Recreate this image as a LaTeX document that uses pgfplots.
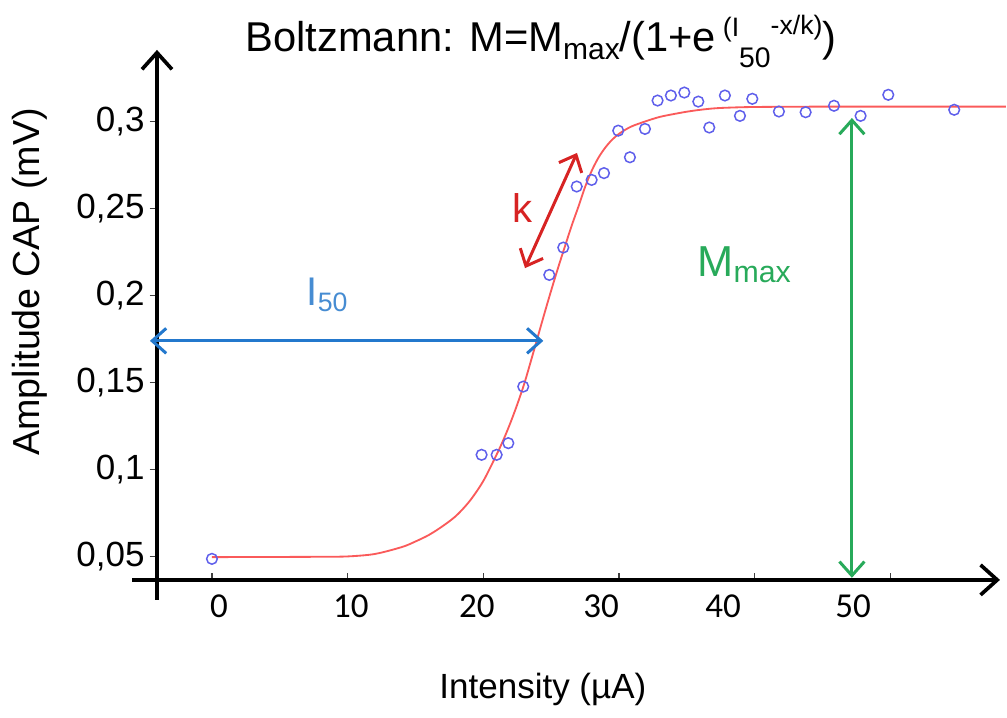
\documentclass[border=0pt]{standalone}
\usepackage{pgfplots}
\pgfplotsset{compat=1.18}
\usetikzlibrary{arrows.meta}
\usepackage{fontspec}
\setmainfont{Liberation Sans}
\newfontfamily\tickfont{Carlito}

\definecolor{fitred}{RGB}{250,90,90}
\definecolor{ptblue}{RGB}{95,95,235}
\definecolor{iblue}{RGB}{35,120,205}
\definecolor{itext}{RGB}{70,140,210}
\definecolor{mgreen}{RGB}{40,170,90}
\definecolor{kred}{RGB}{215,35,35}

\tikzset{
  barb/.style={{Straight Barb[length=4.2pt,width=7.5pt,line width=0.9pt]}-{Straight Barb[length=4.2pt,width=7.5pt,line width=0.9pt]}},
}

\newcommand{\sz}[1]{\fontsize{#1}{#1}\selectfont}

\begin{document}
\begin{tikzpicture}
\begin{axis}[
  x=4.071pt, y=522pt,
  xmin=-4.05, xmax=58.07, ymin=0.0366, ymax=0.3412,
  axis lines=left,
  axis line style={line width=1.1pt, -{Straight Barb[length=5pt,width=9pt,line width=1.1pt]}},
  clip=false,
  xtick={0,10,20,30,40,50}, xticklabels={},
  extra x ticks={0.52,10.24,19.53,28.67,37.66,47.24},
  extra x tick labels={0,10,20,30,40,50},
  extra x tick style={major tick length=0pt},
  x tick label style={font=\tickfont\sz{10.5}, yshift=-1pt},
  xtick align=inside,
  ytick={0.05,0.1,0.15,0.2,0.25,0.3},
  yticklabels={{0,05},{0,1},{0,15},{0,2},{0,25},{0,3}},
  ytick align=outside,
  y tick label style={font=\sz{10.5}, xshift=2pt},
  major tick length=2.2pt,
  tick style={black!75, line width=0.4pt},
  xlabel={Intensity (µA)},
  xlabel style={font=\sz{10.5}, at={(axis description cs:0.4578,-0.2075)}, anchor=center},
  ylabel={Amplitude CAP (mV)},
  ylabel style={font=\sz{11.3}, at={(axis description cs:-0.1507,0.5624)}, anchor=center},
  title={Boltzmann: M=M\raisebox{-2.4pt}{\sz{9}max}/(1+e\,\raisebox{4.3pt}{\sz{8}(I}\raisebox{-4.8pt}{\sz{8.5}50}\raisebox{5pt}{\sz{8}-x/k)})},
  title style={font=\sz{12.5}, at={(axis description cs:0.4555,0.960)}, anchor=base},
]
% fitted Boltzmann curve
\addplot[fitred, line width=0.55pt, smooth] coordinates {
  (0,0.0497) (5,0.0498) (8,0.0499) (10,0.0501) (12,0.0515) (14,0.0555)
  (15,0.0587) (16,0.0625) (17,0.0675) (18,0.0735) (19,0.0820) (20,0.0935)
  (21,0.1090) (21.5,0.1175) (22,0.1270) (22.5,0.1375) (23,0.1490)
  (23.5,0.1623) (24,0.1760) (24.5,0.1897) (25,0.2030) (25.5,0.2158)
  (26,0.2280) (26.5,0.2400) (27,0.2510) (27.5,0.2625) (28,0.2720)
  (28.5,0.2795) (29,0.2852) (29.5,0.2897) (30,0.2930) (30.5,0.2955)
  (31,0.2975) (32,0.3003) (33,0.3027) (34,0.3043) (35,0.3057) (36,0.3068)
  (37,0.3076) (38,0.3080) (40,0.3084) (45,0.3086) (58.5,0.3086)
};
% measured points
\addplot[only marks, mark=o, mark size=1.6pt, ptblue, mark options={line width=0.45pt}] coordinates {
  (0,0.0487) (19.87,0.1085) (20.98,0.1085) (21.84,0.1152) (22.94,0.1477)
  (24.86,0.2119) (25.89,0.2276) (26.88,0.2627) (27.98,0.2665) (28.89,0.2704)
  (29.94,0.2948) (30.80,0.2795) (31.91,0.2958) (32.84,0.3121) (33.82,0.3150)
  (34.81,0.3167) (35.84,0.3115) (36.65,0.2966) (37.80,0.3150) (38.91,0.3033)
  (39.82,0.3131) (41.78,0.3058) (43.75,0.3054) (45.84,0.3091) (47.80,0.3033)
  (49.84,0.3154) (54.70,0.3068)
};
% axis line stubs past the crossing
\draw[line width=1.1pt] (axis cs:-4.05,0.0366) -- (axis cs:-4.05,0.0251);
\draw[line width=1.1pt] (axis cs:-4.05,0.0366) -- (axis cs:-5.9,0.0366);
% annotations
\draw[iblue, line width=0.9pt, barb] (axis cs:-4.57,0.1740) -- (axis cs:24.42,0.1740);
\node[itext, font=\sz{12}] at (axis cs:8.55,0.2004) {I\textsubscript{50}};
\draw[mgreen, line width=0.9pt, barb] (axis cs:47.16,0.3021) -- (axis cs:47.16,0.0378);
\node[mgreen, font=\sz{13}] at (axis cs:39.28,0.2176) {M\textsubscript{max}};
\draw[kred, line width=0.9pt, barb] (axis cs:23.07,0.2158) -- (axis cs:26.90,0.2820);
\node[kred, font=\sz{12}] at (axis cs:22.92,0.2503) {k};
% corners of the whole figure
\coordinate (bbsw) at (axis cs:-15.62,-0.0427);
\coordinate (bbne) at (axis cs:58.59,0.3699);
\end{axis}
\pgfresetboundingbox
\path[use as bounding box] (bbsw) rectangle (bbne);
\end{tikzpicture}
\end{document}
